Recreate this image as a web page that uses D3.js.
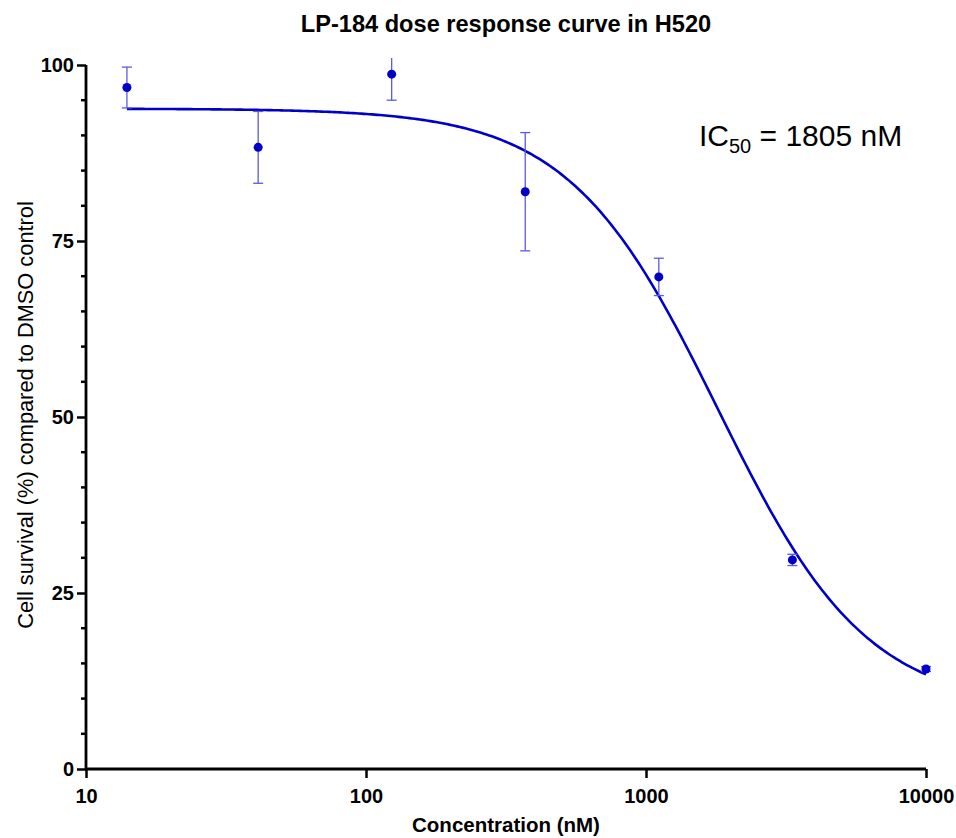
<!DOCTYPE html>
<html>
<head>
<meta charset="utf-8">
<script src="https://cdn.jsdelivr.net/npm/d3@7"></script>
<style>
  html, body { margin: 0; padding: 0; background: #fff; }
  text { font-family: "Liberation Sans", Arial, sans-serif; }
</style>
</head>
<body>
<svg id="chart" width="956" height="838"></svg>
<script>
// ---- Data ----
const concentrations = [14.0, 41.2, 123.5, 370.4, 1111.1, 3333.3, 10000]; // nM
const survivalMean   = [96.8, 88.3, 98.7, 82.0, 69.9, 29.7, 14.2];       // %
const survivalSD     = [2.9, 5.1, 3.7, 8.4, 2.65, 0.8, 0.35];             // %
const xTickValues    = [10, 100, 1000, 10000];
const xTickLabels    = ["10", "100", "1000", "10000"];
const yTickValues    = [0, 25, 50, 75, 100];
const yMinorTicks    = d3.range(0, 101, 5);
// four-parameter logistic fit
const fitTop = 93.8, fitBottom = 8.5, fitIC50 = 1805, fitHill = 1.63;

const titleText = "LP-184 dose response curve in H520";
const xLabel = "Concentration (nM)";
const yLabel = "Cell survival (%) compared to DMSO control";

const svg = d3.select("#chart");
const x = d3.scaleLog().domain([10, 10000]).range([86, 926]);
const y = d3.scaleLinear().domain([0, 100]).range([769, 65]);

const blue = "#0000c8";
const errBlue = "#5a5ae0";
const tickFont = "'Liberation Sans Narrow', 'Arial Narrow', 'Liberation Sans', Arial, sans-serif";

// clip
svg.append("defs").append("clipPath").attr("id", "clip")
  .append("rect").attr("x", 86).attr("y", y(101)).attr("width", 860).attr("height", 769 - y(101) + 10);

// Title
svg.append("text").attr("x", 506).attr("y", 32).attr("text-anchor", "middle")
  .attr("font-size", 23.6).attr("font-weight", "bold").text(titleText);

// Fit curve
const fx = d => fitBottom + (fitTop - fitBottom) / (1 + Math.pow(d / fitIC50, fitHill));
const lo = Math.log10(concentrations[0]), hi = Math.log10(concentrations[concentrations.length - 1]);
const curveX = d3.range(0, 301).map(i => Math.pow(10, lo + i / 300 * (hi - lo)));
svg.append("path").datum(curveX)
  .attr("fill", "none").attr("stroke", blue).attr("stroke-width", 2.6)
  .attr("d", d3.line().x(d => x(d)).y(d => y(fx(d))));

// Error bars
const gErr = svg.append("g").attr("clip-path", "url(#clip)")
  .attr("stroke", errBlue).attr("stroke-width", 1.3);
concentrations.forEach((c, i) => {
  const cx = x(c), yt = y(survivalMean[i] + survivalSD[i]), yb = y(survivalMean[i] - survivalSD[i]);
  gErr.append("line").attr("x1", cx).attr("x2", cx).attr("y1", yt).attr("y2", yb);
  gErr.append("line").attr("x1", cx - 5).attr("x2", cx + 5).attr("y1", yt).attr("y2", yt);
  gErr.append("line").attr("x1", cx - 5).attr("x2", cx + 5).attr("y1", yb).attr("y2", yb);
});

// Points
svg.append("g").selectAll("circle").data(concentrations).join("circle")
  .attr("cx", d => x(d)).attr("cy", (d, i) => y(survivalMean[i])).attr("r", 4.5)
  .attr("fill", blue);

// Y axis
const yAxis = svg.append("g").attr("transform", "translate(86,0)");
yAxis.call(d3.axisLeft(y).tickValues(yTickValues).tickSize(9).tickPadding(3).tickFormat(d3.format("d")));
yAxis.append("g").selectAll("line").data(yMinorTicks.filter(v => !yTickValues.includes(v))).join("line")
  .attr("x1", -5).attr("x2", 0).attr("y1", d => y(d)).attr("y2", d => y(d));
yAxis.selectAll("line").attr("stroke", "#000").attr("stroke-width", 2.5);
yAxis.select(".domain").attr("stroke", "#000").attr("stroke-width", 2.8).attr("d", `M0,${y(0)}V${y(100)}`);
yAxis.selectAll(".tick text").attr("font-size", 20).attr("font-weight", "bold").attr("fill", "#000")
  .attr("font-family", tickFont);

// X axis
const xAxis = svg.append("g").attr("transform", `translate(0,${y(0)})`);
xAxis.call(d3.axisBottom(x).tickValues(xTickValues).tickSize(9).tickPadding(11)
  .tickFormat((d, i) => xTickLabels[i]));
xAxis.selectAll("line").attr("stroke", "#000").attr("stroke-width", 2.5);
xAxis.select(".domain").attr("stroke", "#000").attr("stroke-width", 2.8).attr("d", `M${x(10) - 1},0H${x(10000)}`);
xAxis.selectAll(".tick text").attr("font-size", 20).attr("font-weight", "bold").attr("fill", "#000")
  .attr("font-family", tickFont);

// Axis labels
svg.append("text").attr("x", 506).attr("y", 832).attr("text-anchor", "middle")
  .attr("font-size", 20.5).attr("font-weight", "bold").text(xLabel);
svg.append("text").attr("transform", "translate(33,415) rotate(-90)").attr("text-anchor", "middle")
  .attr("font-size", 21.8).text(yLabel);

// IC50 annotation
const ic = svg.append("text").attr("x", 699).attr("y", 146).attr("font-size", 30);
ic.append("tspan").text("IC");
ic.append("tspan").attr("font-size", 20).attr("dy", 7).text("50");
ic.append("tspan").attr("dy", -7).text(" = " + fitIC50 + " nM");
</script>
</body>
</html>
